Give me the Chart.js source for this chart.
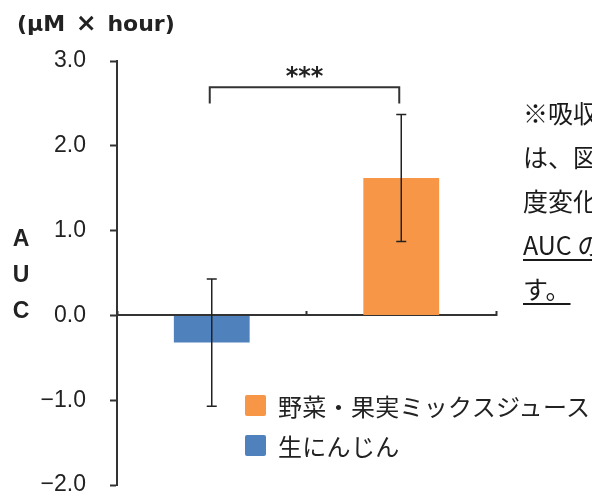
<!DOCTYPE html>
<html>
<head>
<meta charset="utf-8">
<script src="https://cdn.jsdelivr.net/npm/chart.js@4.4.1/dist/chart.umd.min.js"></script>
<style>
  html, body { margin: 0; padding: 0; background: #fff; overflow: hidden; }
  #wrap { position: relative; width: 592px; height: 495px; overflow: hidden; }
  #chart { position: absolute; left: 0; top: 0; }
  .unit { position: absolute; left: 17px; top: 8px; line-height: 32px; font: bold 22px "DejaVu Sans", sans-serif; color: #222; word-spacing: 3px; white-space: nowrap; }
  .unit .x { font-size: 25px; }
  .yname { position: absolute; left: 11px; top: 220px; width: 20px; text-align: center; font: bold 23px "Liberation Sans", Arial, sans-serif; line-height: 36px; color: #222; }
  .legend { position: absolute; left: 245px; top: 385px; font: 24px "Noto Sans CJK JP", sans-serif; color: #222; letter-spacing: 0.3px; }
  .legend div { display: flex; align-items: center; height: 40px; white-space: nowrap; }
  .legend span.box { display: inline-block; width: 21px; height: 21px; margin-right: 12px; border-radius: 2px; }
  .note { position: absolute; left: 523px; top: 90px; font: 25px "Noto Sans CJK JP", sans-serif; line-height: 44px; color: #1a1a1a; white-space: nowrap; }
  .note .u { text-decoration: underline; text-decoration-thickness: 2px; text-underline-offset: 4px; }
</style>
</head>
<body>
<div id="wrap">
  <canvas id="chart" width="592" height="495"></canvas>
  <div class="unit">(μM <span class="x">×</span> hour)</div>
  <div class="yname">A<br>U<br>C</div>
  <div class="legend" id="legend"></div>
  <div class="note">
    <div>※吸収</div>
    <div>は、図</div>
    <div>度変化</div>
    <div class="u">AUC の</div>
    <div class="u">す。</div>
  </div>
</div>
<script>
const groups = ['生にんじん', '野菜・果実ミックスジュース'];
const aucMean = [-0.32, 1.62];
const aucSd = [0.75, 0.75];
const barColors = ['#4F81BD', '#F79646'];
const yTicks = [-2, -1, 0, 1, 2, 3];
const sigMark = '***';
const sigLevel = 2.69;   // bracket top
const sigLeg = 2.5;      // bracket legs end

const axisColor = '#333';

const datasets = groups.map((g, i) => ({
  label: g,
  data: groups.map((_, j) => j === i ? aucMean[i] : null),
  backgroundColor: barColors[i],
  borderWidth: 0
}));

const errorBars = {
  id: 'errorBars',
  afterDraw(chart) {
    const { ctx, scales: { y } } = chart;
    ctx.save();
    ctx.strokeStyle = '#222';
    ctx.lineWidth = 1.5;
    groups.forEach((g, i) => {
      const bar = chart.getDatasetMeta(i).data[i];
      const top = y.getPixelForValue(aucMean[i] + aucSd[i]);
      const bot = y.getPixelForValue(aucMean[i] - aucSd[i]);
      ctx.beginPath();
      ctx.moveTo(bar.x, top); ctx.lineTo(bar.x, bot);
      ctx.moveTo(bar.x - 5, top); ctx.lineTo(bar.x + 5, top);
      ctx.moveTo(bar.x - 5, bot); ctx.lineTo(bar.x + 5, bot);
      ctx.stroke();
    });

    // significance bracket
    const x0 = chart.getDatasetMeta(0).data[0].x - 2;
    const x1 = chart.getDatasetMeta(1).data[1].x - 2;
    const yt = y.getPixelForValue(sigLevel);
    const yl = y.getPixelForValue(sigLeg);
    ctx.strokeStyle = axisColor;
    ctx.lineWidth = 2;
    ctx.beginPath();
    ctx.moveTo(x0, yl); ctx.lineTo(x0, yt); ctx.lineTo(x1, yt); ctx.lineTo(x1, yl);
    ctx.stroke();
    ctx.fillStyle = '#222';
    ctx.font = 'bold 24px "DejaVu Sans"';
    ctx.textAlign = 'center';
    ctx.textBaseline = 'middle';
    ctx.fillText(sigMark, (x0 + x1) / 2, yt - 10);
    ctx.restore();
  }
};

const chart = new Chart('chart', {
  type: 'bar',
  data: { labels: groups, datasets },
  plugins: [errorBars],
  options: {
    responsive: false,
    animation: false,
    layout: { padding: { left: 0, top: 61, right: 96, bottom: 10 } },
    datasets: {
      bar: { grouped: false, barPercentage: 0.4, categoryPercentage: 1 }
    },
    plugins: {
      legend: { display: false },
      tooltip: { enabled: false }
    },
    scales: {
      x: {
        position: { y: 0 },
        offset: true,
        z: 1,
        ticks: { display: false },
        grid: { offset: true, drawOnChartArea: false, tickLength: -5, tickColor: axisColor, tickWidth: 2 },
        border: { color: axisColor, width: 2 }
      },
      y: {
        min: -2,
        max: 3,
        afterBuildTicks: s => { s.ticks = yTicks.map(v => ({ value: v })); },
        afterFit: s => { s.width = 117; s.paddingBottom = 0; s.paddingTop = 0; },
        ticks: {
          padding: 24,
          color: '#222',
          font: { family: '"Liberation Sans", Arial, sans-serif', size: 23 },
          callback: v => (v < 0 ? '\u2212' : '') + Math.abs(v).toFixed(1)
        },
        grid: { drawOnChartArea: false, tickLength: 7, tickColor: axisColor, tickWidth: 2 },
        border: { color: axisColor, width: 2 }
      }
    }
  }
});

// legend: orange first, as in the figure
document.getElementById('legend').innerHTML = datasets.slice().reverse().map(ds =>
  `<div><span class="box" style="background:${ds.backgroundColor}"></span>${ds.label}</div>`
).join('');
</script>
</body>
</html>
